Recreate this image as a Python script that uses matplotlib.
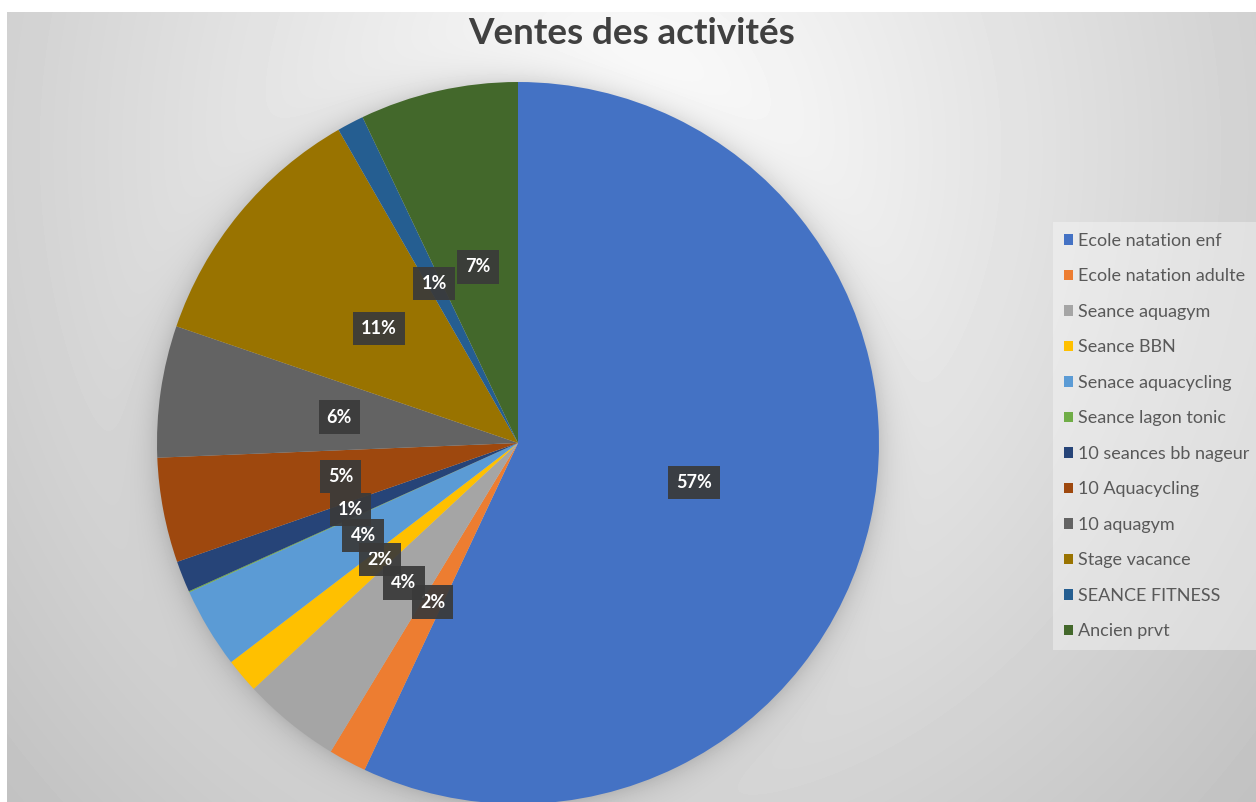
import numpy as np
import matplotlib.pyplot as plt
from matplotlib.patches import Patch

plt.rcParams['font.family'] = ['Lato', 'DejaVu Sans']

categories = ['Ecole natation enf', 'Ecole natation adulte', 'Seance aquagym', 'Seance BBN',
              'Senace aquacycling', 'Seance lagon tonic', '10 seances bb nageur', '10 Aquacycling',
              '10 aquagym', 'Stage vacance', 'SEANCE FITNESS', 'Ancien prvt']
values = [57.1, 1.7, 4.4, 1.55, 3.6, 0.05, 1.4, 4.7, 5.9, 11.5, 1.2, 7.1]
colors = ['#4472C4', '#ED7D31', '#A5A5A5', '#FFC000', '#5B9BD5', '#70AD47',
          '#264478', '#9E480E', '#636363', '#997300', '#255E91', '#43682B']
title = 'Ventes des activités'

W, H = 1256, 802
fig = plt.figure(figsize=(W / 100, H / 100), dpi=100)

# background gradient + soft shadow round the pie
bg = fig.add_axes([0, 0, 1, 1])
bg.set_axis_off()
yy, xx = np.mgrid[0:H, 0:W]
r = np.sqrt(((xx - 630) / 800) ** 2 + ((yy - 150) / 900) ** 2)
grey = 255 - 58 * r
d = np.hypot(xx - 518, yy - 443)
grey = grey - 30 * np.exp(-np.clip(d - 361, 0, None) / 14)
grey[:12, :] = 255
grey[:, :7] = 255
bg.imshow(grey, cmap='gray', vmin=0, vmax=255, extent=(0, W, H, 0), aspect='auto')
bg.set_xlim(0, W)
bg.set_ylim(H, 0)

# pie
ax = fig.add_axes([(518 - 361) / W, (H - 443 - 361) / H, 722 / W, 722 / H])
wedges, _ = ax.pie(values, colors=colors, startangle=90, counterclock=False,
                   radius=1, wedgeprops=dict(linewidth=0))
ax.set_xlim(-1, 1)
ax.set_ylim(-1, 1)

total = sum(values)
for w, v in zip(wedges, values):
    pct = v / total * 100
    if pct < 0.5:
        continue
    ang = np.deg2rad((w.theta1 + w.theta2) / 2)
    ax.text(0.5 * np.cos(ang), 0.5 * np.sin(ang), f'{pct:.0f}%', ha='center', va='center',
            color='white', fontweight='bold', fontsize=13,
            bbox=dict(boxstyle='square,pad=0.45', fc='#3a3a3a', ec='none', alpha=0.93))

handles = [Patch(fc=c, ec='none') for c in colors]
leg = fig.legend(handles, categories, loc='upper left', bbox_to_anchor=(1053 / W, 1 - 222 / H),
                 frameon=True, fancybox=False, facecolor='white', framealpha=0.35,
                 edgecolor='none', fontsize=13, labelspacing=1.08, handlelength=0.5,
                 handleheight=0.5, handletextpad=0.3, borderpad=0.6, borderaxespad=0)
for t in leg.get_texts():
    t.set_color('#595959')

fig.text(632 / W, 1 - 33 / H, title, ha='center', va='center', fontsize=26.5,
         fontweight='bold', color='#404040')

fig.savefig('out.png', dpi=100)
